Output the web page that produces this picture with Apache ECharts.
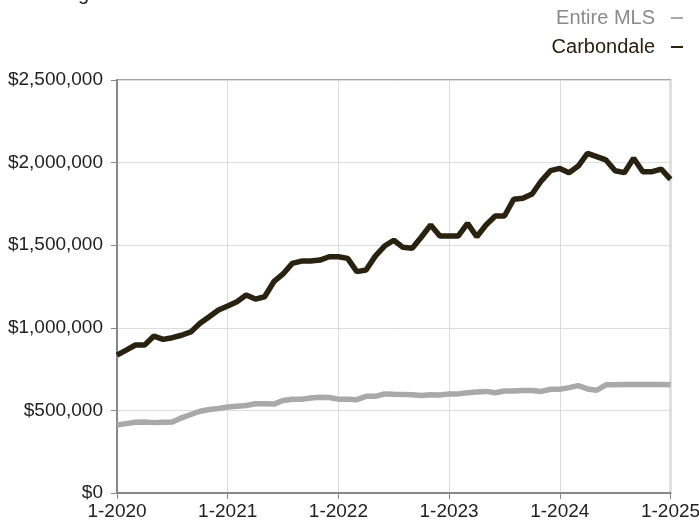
<!DOCTYPE html>
<html>
<head>
<meta charset="utf-8">
<script src="https://cdn.jsdelivr.net/npm/echarts@6/dist/echarts.min.js"></script>
<style>html,body{margin:0;padding:0;background:#fff}#c{width:699px;height:525px}</style>
</head>
<body>
<div id="c"></div>
<script>
var titleText = "Rolling 12-Month Calculation";
var seriesNames = ["Entire MLS", "Carbondale"];
var months = [];
for (var y = 2020; y <= 2025; y++) {
  for (var m = 1; m <= 12; m++) {
    if (y === 2025 && m > 1) break;
    months.push(m + "-" + y);
  }
}
var entireMLS = [412,420,428,430,426,428,430,455,475,495,505,512,
  520,525,530,540,540,538,560,568,568,575,580,578,
  568,568,565,585,585,600,598,597,595,590,595,593,
  600,600,607,612,615,607,617,617,620,620,615,628,
  628,638,650,630,622,655,655,657,657,657,657,657,
  655].map(function(v){return v*1000;});
var carbondale = [835,865,896,896,950,930,940,955,975,1027,1067,1108,
  1132,1158,1198,1174,1188,1279,1326,1390,1404,1404,1410,1430,
  1430,1420,1340,1350,1434,1495,1530,1487,1481,1550,1622,1556,
  1556,1556,1632,1551,1622,1677,1677,1778,1784,1810,1890,1951,
  1965,1939,1979,2056,2036,2016,1951,1939,2026,1945,1945,1960,
  1899].map(function(v){return v*1000;});
var yMin = 0, yMax = 2500000, yStep = 500000;

var colGray = "#a9a9a9", colDark = "#2a2210";
var font = "'Liberation Sans', Arial, Helvetica, sans-serif";
var chart = echarts.init(document.getElementById("c"), null, {renderer: "canvas"});
chart.setOption({
  animation: false,
  backgroundColor: "#fff",
  title: {
    text: titleText, left: 23, top: -21,
    textStyle: {fontFamily: font, fontSize: 20, fontWeight: "normal", color: "#222"}
  },
  legend: {
    orient: "vertical", right: 11, top: 3, align: "right",
    itemWidth: 12, itemHeight: 2, itemGap: 9, icon: "rect",
    data: [
      {name: seriesNames[0], textStyle: {color: "#8a8a8a"}},
      {name: seriesNames[1], textStyle: {color: colDark}}
    ],
    textStyle: {fontFamily: font, fontSize: 20, padding: [0, 11, 0, 0]}
  },
  grid: {left: 117, right: 28.5, top: 80, bottom: 32, show: true, borderColor: "#888", borderWidth: 1.5,
    outerBoundsMode: "none", containLabel: false},
  xAxis: {
    type: "category", data: months, boundaryGap: false,
    axisLine: {lineStyle: {color: "#888", width: 2}},
    axisTick: {interval: 11, length: 6, lineStyle: {color: "#888"}},
    axisLabel: {interval: 11, margin: 9, color: "#222", fontFamily: font, fontSize: 19},
    splitLine: {show: true, interval: 11, lineStyle: {color: "#dcdcdc", width: 1}}
  },
  yAxis: {
    type: "value", min: yMin, max: yMax, interval: yStep,
    axisLine: {show: true, lineStyle: {color: "#888", width: 2}},
    axisTick: {show: true, length: 6, lineStyle: {color: "#888"}},
    axisLabel: {margin: 14, color: "#222", fontFamily: font, fontSize: 19,
      formatter: function(v){ return "$" + v.toLocaleString("en-US"); }},
    splitLine: {show: true, lineStyle: {color: "#dcdcdc", width: 1}}
  },
  series: [
    {name: seriesNames[0], type: "line", data: entireMLS, symbol: "none",
      color: colGray, lineStyle: {color: colGray, width: 5.5}},
    {name: seriesNames[1], type: "line", data: carbondale, symbol: "none",
      color: colDark, lineStyle: {color: colDark, width: 5.5}}
  ]
});
</script>
</body>
</html>
